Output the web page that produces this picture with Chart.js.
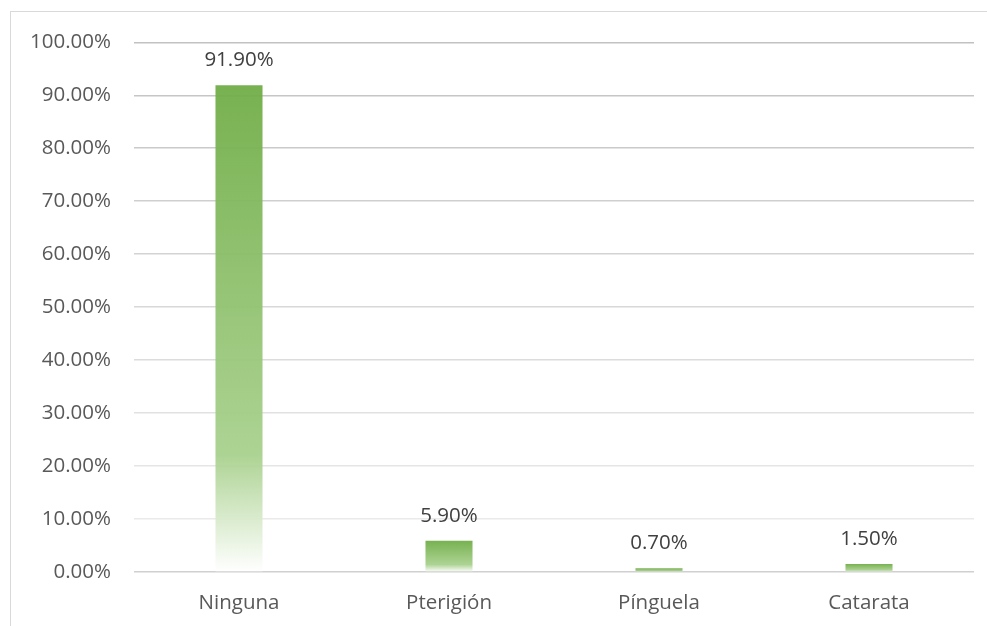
<!DOCTYPE html>
<html>
<head>
<meta charset="utf-8">
<script src="https://cdn.jsdelivr.net/npm/chart.js@4"></script>
<style>
    html, body { margin: 0; padding: 0; background: #fff; overflow: hidden; }
    #wrap {
        position: absolute; left: 10px; top: 11px;
        width: 977px; height: 615px; overflow: hidden;
        border-left: 1px solid #d9d9d9; border-top: 1px solid #d9d9d9;
    }
    #barChart { position: absolute; left: 0; top: -5px; }
</style>
</head>
<body>
<div id="wrap"><canvas id="barChart" width="976" height="619"></canvas></div>
<script>
var categories = ['Ninguna', 'Pterigión', 'Pínguela', 'Catarata'];
var percentages = [91.9, 5.9, 0.7, 1.5];
var yTicks = [0, 10, 20, 30, 40, 50, 60, 70, 80, 90, 100];

var fontFamily = '"Open Sans", sans-serif';

function barGradient(context) {
    var chart = context.chart;
    if (!chart.chartArea || context.type !== 'data') {
        return '#70AD47';
    }
    var yScale = chart.scales.y;
    var top = yScale.getPixelForValue(context.raw);
    var bottom = yScale.getPixelForValue(0);
    if (bottom - top < 1) {
        return '#70AD47';
    }
    var g = chart.ctx.createLinearGradient(0, top, 0, bottom);
    g.addColorStop(0, 'rgba(112,173,71,0.95)');
    g.addColorStop(0.76, 'rgba(169,209,142,0.95)');
    g.addColorStop(1, 'rgba(255,255,255,0.95)');
    return g;
}

// labels above each bar
var valueLabels = {
    id: 'valueLabels',
    afterDatasetsDraw: function(chart) {
        var ctx = chart.ctx;
        var meta = chart.getDatasetMeta(0);
        ctx.save();
        ctx.font = '20.5px ' + fontFamily;
        ctx.fillStyle = '#404040';
        ctx.textAlign = 'center';
        ctx.textBaseline = 'middle';
        meta.data.forEach(function(bar, i) {
            ctx.fillText(percentages[i].toFixed(2) + '%', bar.x, bar.y - 25);
        });
        ctx.restore();
    }
};

var ctx = document.getElementById('barChart').getContext('2d');
var barChart = new Chart(ctx, {
    type: 'bar',
    data: {
        labels: categories,
        datasets: [{
            data: percentages,
            backgroundColor: barGradient,
            borderWidth: 0,
            categoryPercentage: 1,
            barPercentage: 0.224
        }]
    },
    options: {
        responsive: false,
        animation: false,
        layout: { padding: { top: 22, right: 13, bottom: 0, left: 0 } },
        plugins: {
            legend: { display: false },
            tooltip: { enabled: false }
        },
        scales: {
            x: {
                grid: { display: false, drawTicks: false },
                border: { display: false },
                ticks: {
                    color: '#595959',
                    font: { family: fontFamily, size: 20.5 },
                    padding: 19
                },
                afterFit: function(scale) { scale.height = 54; }
            },
            y: {
                min: 0,
                max: 100,
                afterBuildTicks: function(scale) {
                    scale.ticks = yTicks.map(function(v) { return { value: v }; });
                },
                grid: {
                    drawTicks: false,
                    lineWidth: 1.5,
                    color: function(c) {
                        if (c.tick && c.tick.value === 0) return '#d0d0d0';
                        var t = c.tick ? c.tick.value / 100 : 1;
                        var v = Math.round(238 - 45 * t);
                        return 'rgb(' + v + ',' + v + ',' + v + ')';
                    }
                },
                border: { display: false },
                ticks: {
                    color: '#595959',
                    font: { family: fontFamily, size: 20.5 },
                    padding: 23,
                    callback: function(value) { return value.toFixed(2) + '%'; }
                },
                afterFit: function(scale) { scale.width = 123; }
            }
        }
    },
    plugins: [valueLabels]
});
</script>
</body>
</html>
